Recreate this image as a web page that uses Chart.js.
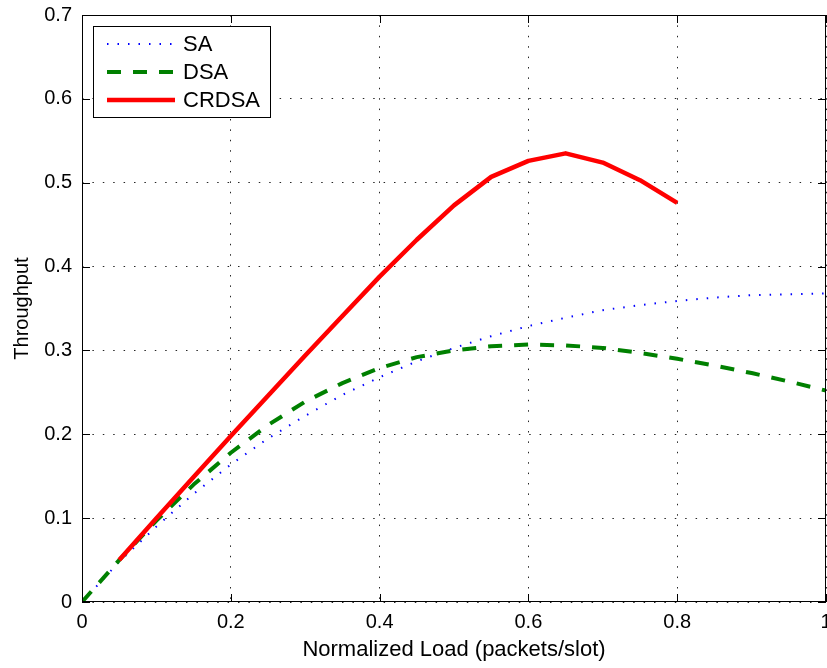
<!DOCTYPE html>
<html>
<head>
<meta charset="utf-8">
<script src="https://cdn.jsdelivr.net/npm/chart.js@4/dist/chart.umd.min.js"></script>
<style>
  html, body { margin: 0; padding: 0; background: #fff; }
  #wrap { width: 827px; height: 668px; }
</style>
</head>
<body>
<div id="wrap"><canvas id="c" width="827" height="668"></canvas></div>
<script>
// ---- data ----
const loads = [0, 0.05, 0.1, 0.15, 0.2, 0.25, 0.3, 0.35, 0.4, 0.45, 0.5, 0.55, 0.6, 0.65, 0.7, 0.75, 0.8, 0.85, 0.9, 0.95, 1];
const saThroughput = [0, 0.048, 0.090, 0.129, 0.164, 0.195, 0.222, 0.247, 0.268, 0.287, 0.303, 0.317, 0.329, 0.339, 0.348, 0.354, 0.359, 0.363, 0.366, 0.367, 0.368];
const dsaThroughput = [0, 0.050, 0.097, 0.140, 0.178, 0.211, 0.239, 0.261, 0.279, 0.292, 0.300, 0.305, 0.307, 0.306, 0.303, 0.297, 0.290, 0.282, 0.273, 0.263, 0.252];
const crdsaLoads = [0.05, 0.1, 0.15, 0.2, 0.25, 0.3, 0.35, 0.4, 0.45, 0.5, 0.55, 0.6, 0.65, 0.7, 0.75, 0.8];
const crdsaThroughput = [0.050, 0.100, 0.149, 0.198, 0.246, 0.294, 0.341, 0.388, 0.432, 0.473, 0.507, 0.526, 0.535, 0.524, 0.503, 0.476];
const seriesLabels = ['SA', 'DSA', 'CRDSA'];
const xTickValues = [0, 0.2, 0.4, 0.6, 0.8, 1];
const yTickValues = [0, 0.1, 0.2, 0.3, 0.4, 0.5, 0.6, 0.7];
const xTitle = 'Normalized Load (packets/slot)';
const yTitle = 'Throughput';

const FONT = 'Liberation Sans, Arial, Helvetica, sans-serif';
const toPts = (xs, ys) => xs.map((x, i) => ({ x: x, y: ys[i] }));

const fmt = v => {
  const r = Math.round(v * 10) / 10;
  return r === 0 ? '0' : (r === 1 ? '1' : String(r));
};

// frame + inward ticks
const framePlugin = {
  id: 'frame',
  afterDatasetsDraw(chart) {
    const { ctx, chartArea: a, scales } = chart;
    ctx.save();
    ctx.strokeStyle = '#000';
    ctx.lineWidth = 1;
    ctx.setLineDash([]);
    ctx.strokeRect(a.left + 0.5, a.top + 0.5, a.right - a.left - 1, a.bottom - a.top - 1);
    const L = 8;
    ctx.beginPath();
    xTickValues.forEach(v => {
      const px = Math.round(scales.x.getPixelForValue(v)) + 0.5;
      ctx.moveTo(px, a.bottom); ctx.lineTo(px, a.bottom - L);
      ctx.moveTo(px, a.top); ctx.lineTo(px, a.top + L);
    });
    yTickValues.forEach(v => {
      const py = Math.round(scales.y.getPixelForValue(v)) + 0.5;
      ctx.moveTo(a.left, py); ctx.lineTo(a.left + L, py);
      ctx.moveTo(a.right, py); ctx.lineTo(a.right - L, py);
    });
    ctx.stroke();
    ctx.restore();
  }
};

// legend box inside plot (top-left)
const legendPlugin = {
  id: 'boxLegend',
  afterDraw(chart) {
    const { ctx, chartArea: a } = chart;
    const bx = a.left + 11, by = a.top + 11, bw = 177, bh = 91;
    ctx.save();
    ctx.fillStyle = '#fff';
    ctx.fillRect(bx, by, bw, bh);
    ctx.strokeStyle = '#000';
    ctx.lineWidth = 1;
    ctx.setLineDash([]);
    ctx.strokeRect(bx + 0.5, by + 0.5, bw, bh);
    chart.data.datasets.forEach((ds, i) => {
      const cy = by + 18 + i * 28;
      ctx.beginPath();
      ctx.strokeStyle = ds.borderColor;
      ctx.lineWidth = ds.borderWidth;
      ctx.lineCap = 'butt';
      ctx.setLineDash(ds.borderDash || []);
      ctx.moveTo(bx + 14, cy);
      ctx.lineTo(bx + 82, cy);
      ctx.stroke();
      ctx.setLineDash([]);
      ctx.fillStyle = '#000';
      ctx.font = '22px ' + FONT;
      ctx.textBaseline = 'middle';
      ctx.textAlign = 'left';
      ctx.fillText(ds.label, bx + 90, cy + 1);
    });
    ctx.restore();
  }
};

new Chart(document.getElementById('c'), {
  type: 'line',
  data: {
    datasets: [
      { label: seriesLabels[0], order: 3, data: toPts(loads, saThroughput), borderColor: '#0000ff', borderWidth: 2, borderDash: [1.5, 9], borderCapStyle: 'butt', pointRadius: 0, tension: 0, fill: false },
      { label: seriesLabels[1], order: 2, data: toPts(loads, dsaThroughput), borderColor: '#008000', borderWidth: 4, borderDash: [14, 12], borderCapStyle: 'butt', pointRadius: 0, tension: 0, fill: false },
      { label: seriesLabels[2], order: 1, data: toPts(crdsaLoads, crdsaThroughput), borderColor: '#ff0000', borderWidth: 4.5, borderDash: [], pointRadius: 0, tension: 0, fill: false }
    ]
  },
  options: {
    responsive: false,
    animation: false,
    devicePixelRatio: 1,
    layout: { padding: { top: 15, right: 1, left: 0, bottom: 0 } },
    plugins: { legend: { display: false }, tooltip: { enabled: false } },
    elements: { line: { borderJoinStyle: 'round' } },
    scales: {
      x: {
        type: 'linear', min: 0, max: 1,
        afterBuildTicks: s => { s.ticks = xTickValues.map(v => ({ value: v })); },
        afterFit: s => { s.height = 66; s.paddingLeft = 0; s.paddingRight = 0; },
        ticks: { callback: v => fmt(v), color: '#000', font: { family: FONT, size: 20 }, padding: 8, maxRotation: 0, autoSkip: false },
        grid: { color: 'rgba(0,0,0,0.85)', lineWidth: 1, drawTicks: false },
        border: { display: false, dash: [1.5, 8.9] },
        title: { display: true, text: xTitle, color: '#000', font: { family: FONT, size: 22 }, padding: { top: 0, bottom: 5 } }
      },
      y: {
        type: 'linear', min: 0, max: 0.7,
        afterBuildTicks: s => { s.ticks = yTickValues.map(v => ({ value: v })); },
        afterFit: s => { s.width = 82; s.paddingTop = 0; s.paddingBottom = 0; },
        ticks: { callback: v => fmt(v), color: '#000', font: { family: FONT, size: 20 }, padding: 10, autoSkip: false },
        grid: { color: 'rgba(0,0,0,0.85)', lineWidth: 1, drawTicks: false },
        border: { display: false, dash: [1.5, 8.9] },
        title: { display: true, text: yTitle, color: '#000', font: { family: FONT, size: 20 }, padding: { top: 10, bottom: 0 } }
      }
    }
  },
  plugins: [framePlugin, legendPlugin]
});
</script>
</body>
</html>
